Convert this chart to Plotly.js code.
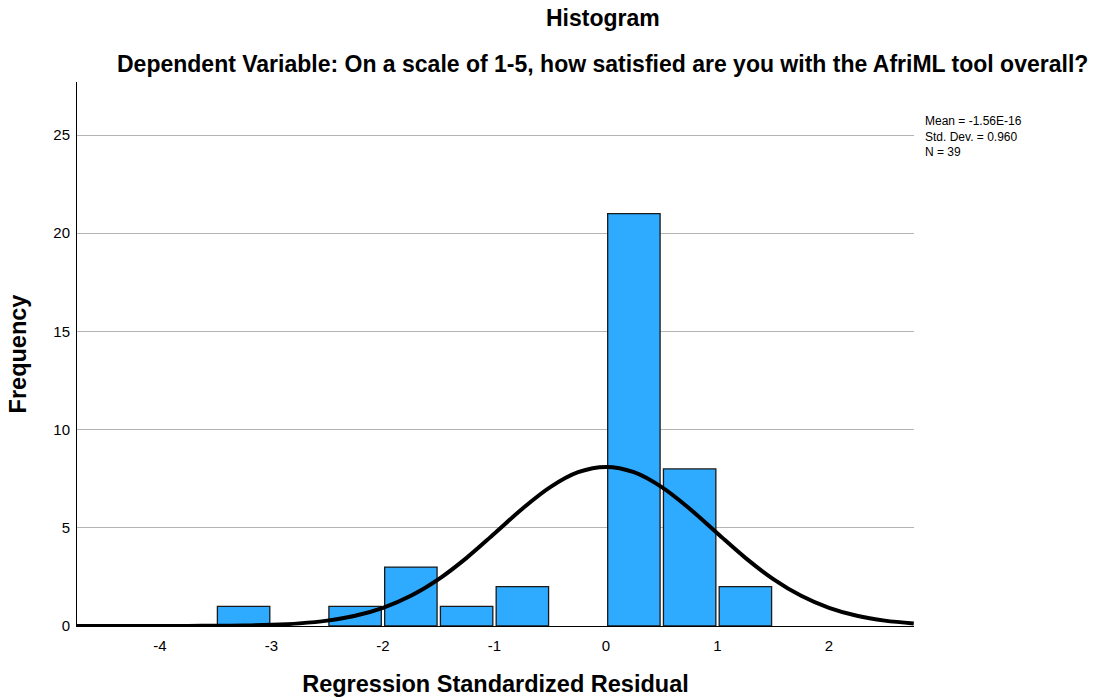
<!DOCTYPE html>
<html>
<head>
<meta charset="utf-8">
<script src="https://cdn.plot.ly/plotly-3.0.1.min.js"></script>
<style>html,body{margin:0;padding:0;background:#fff;}#chart{width:1099px;height:698px;}</style>
</head>
<body>
<div id="chart"></div>
<script>
// Histogram bins (centers) and frequencies
var binCenters = [-3.25, -2.25, -1.75, -1.25, -0.75, 0.25, 0.75, 1.25];
var frequencies = [1, 1, 3, 1, 2, 21, 8, 2];

// Normal curve points
var curveX = [-4.75, -4.5, -4.25, -4, -3.75, -3.5, -3.25, -3, -2.75, -2.5, -2.25, -2, -1.75, -1.5, -1.25, -1, -0.75, -0.5, -0.25, 0, 0.25, 0.5, 0.75, 1, 1.25, 1.5, 1.75, 2, 2.25, 2.5, 2.76];
var curveY = [0.0, 0.0002, 0.0005, 0.0014, 0.004, 0.011, 0.026, 0.061, 0.134, 0.273, 0.52, 0.925, 1.54, 2.39, 3.47, 4.71, 5.97, 7.07, 7.83, 8.10, 7.83, 7.07, 5.97, 4.71, 3.47, 2.39, 1.54, 0.925, 0.52, 0.273, 0.13];

var xTicks = [-4, -3, -2, -1, 0, 1, 2];
var yTicks = [0, 5, 10, 15, 20, 25];

var statsLines = ["Mean = -1.56E-16", "Std. Dev. = 0.960", "N = 39"];

var font = "Liberation Sans, Arial, sans-serif";

var traces = [
  {
    type: "bar",
    x: binCenters,
    y: frequencies,
    width: binCenters.map(function(){return 0.47;}),
    marker: {color: "#2EAAFF", line: {color: "#1a1a1a", width: 1.3}},
    hoverinfo: "x+y"
  },
  {
    type: "scatter",
    mode: "lines",
    x: curveX,
    y: curveY,
    line: {color: "#000", width: 4, shape: "spline", smoothing: 1},
    hoverinfo: "skip"
  }
];

var layout = {
  width: 1099,
  height: 698,
  paper_bgcolor: "#fff",
  plot_bgcolor: "#fff",
  showlegend: false,
  margin: {l: 77, r: 185, t: 82, b: 72},
  font: {family: font, color: "#000"},
  xaxis: {
    range: [-4.744, 2.762],
    tickvals: xTicks,
    ticktext: xTicks.map(String),
    showgrid: false,
    zeroline: false,
    showline: true,
    linecolor: "#000",
    linewidth: 1,
    ticks: "",
    ticklen: 0,
    ticklabelstandoff: 6,
    tickfont: {size: 15, family: font, color: "#000"},
    title: {text: "Regression Standardized Residual", font: {size: 23.5, family: font, color: "#000", weight: "bold"}, standoff: 22}
  },
  yaxis: {
    range: [0, 27.7],
    tickvals: yTicks,
    ticktext: yTicks.map(String),
    showgrid: true,
    gridcolor: "#b4b4b4",
    gridwidth: 1,
    zeroline: false,
    showline: true,
    linecolor: "#000",
    linewidth: 1,
    ticks: "",
    ticklabelstandoff: 3,
    tickfont: {size: 15, family: font, color: "#000"},
    title: {text: "Frequency", font: {size: 23.5, family: font, color: "#000", weight: "bold"}, standoff: 20}
  },
  annotations: [
    {text: "<b>Histogram</b>", xref: "paper", yref: "paper", x: 0.628, y: 1, yshift: 64, xanchor: "center", yanchor: "middle", showarrow: false, font: {size: 23, family: font, color: "#000"}},
    {text: "<b>Dependent Variable: On a scale of 1-5, how satisfied are you with the AfriML tool overall?</b>", xref: "paper", yref: "paper", x: 0.628, y: 1, yshift: 18, xanchor: "center", yanchor: "middle", showarrow: false, font: {size: 23, family: font, color: "#000"}},
    {text: statsLines.join("<br>"), xref: "paper", yref: "paper", x: 1, xshift: 9, y: 1, yshift: -30, xanchor: "left", yanchor: "top", align: "left", showarrow: false, font: {size: 12, family: font, color: "#000"}}
  ]
};

Plotly.newPlot("chart", traces, layout, {displayModeBar: false, staticPlot: true});
</script>
</body>
</html>
